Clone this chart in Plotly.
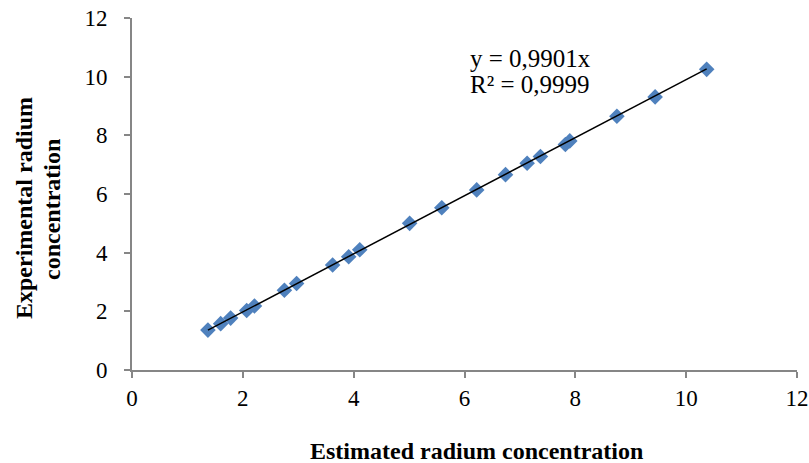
import plotly.graph_objects as go

estimated = [1.37, 1.60, 1.78, 2.07, 2.21, 2.75, 2.97, 3.62, 3.91, 4.11, 5.01, 5.59,
             6.22, 6.74, 7.13, 7.37, 7.82, 7.90, 8.75, 9.44, 10.37]
experimental = [1.36, 1.58, 1.77, 2.03, 2.18, 2.72, 2.95, 3.58, 3.86, 4.10, 5.00, 5.53,
                6.14, 6.66, 7.05, 7.28, 7.69, 7.81, 8.65, 9.31, 10.25]
slope = 0.9901
trend_x = [min(estimated), max(estimated)]
trend_y = [slope * v for v in trend_x]
ticks = [0, 2, 4, 6, 8, 10, 12]

font_family = "Liberation Serif"
axis_color = "#868686"

W, H = 809, 463
L, R, T, B = 132, 12, 18, 93
pw, ph = W - L - R, H - T - B


def px(x):
    return (x - L) / pw


def py(y):
    return (H - B - y) / ph


fig = go.Figure()
fig.add_trace(go.Scatter(x=estimated, y=experimental, mode="markers",
                         marker=dict(symbol="diamond", size=12, color="#4F81BD",
                                     line=dict(width=0)),
                         showlegend=False))
fig.add_trace(go.Scatter(x=trend_x, y=trend_y, mode="lines",
                         line=dict(color="black", width=1.5), showlegend=False))

ann_font = dict(family=font_family, size=25, color="black")
fig.add_annotation(x=px(468), y=py(59), xref="paper", yref="paper", xanchor="left",
                   yanchor="middle", text="y = 0,9901x", showarrow=False, font=ann_font)
fig.add_annotation(x=px(468), y=py(85), xref="paper", yref="paper", xanchor="left",
                   yanchor="middle", text="R² = 0,9999", showarrow=False, font=ann_font)

title_font = dict(family=font_family, size=24, color="black")
fig.add_annotation(x=px(476), y=py(451), xref="paper", yref="paper", xanchor="center",
                   yanchor="middle", text="<b>Estimated radium concentration</b>",
                   showarrow=False, font=title_font)
fig.add_annotation(x=px(24), y=py(208), xref="paper", yref="paper", xanchor="center",
                   yanchor="middle", text="<b>Experimental radium</b>", textangle=-90,
                   showarrow=False, font=title_font)
fig.add_annotation(x=px(52), y=py(210), xref="paper", yref="paper", xanchor="center",
                   yanchor="middle", text="<b>concentration</b>", textangle=-90,
                   showarrow=False, font=title_font)

axis_common = dict(range=[0, 12], tickvals=ticks, ticktext=[str(t) for t in ticks],
                   showgrid=False, zeroline=False, showline=True, linecolor=axis_color,
                   linewidth=2, ticks="outside", ticklen=6, tickcolor=axis_color,
                   tickwidth=2, automargin=False, ticklabelposition="outside",
                   tickfont=dict(family=font_family, size=23, color="black"))

fig.update_layout(
    width=W, height=H,
    margin=dict(l=L, r=R, t=T, b=B),
    plot_bgcolor="white", paper_bgcolor="white",
    font=dict(family=font_family, size=23, color="black"),
    xaxis=dict(**axis_common),
    yaxis=dict(**axis_common, ticklabelstandoff=12),
)

fig.write_html("out.html")
